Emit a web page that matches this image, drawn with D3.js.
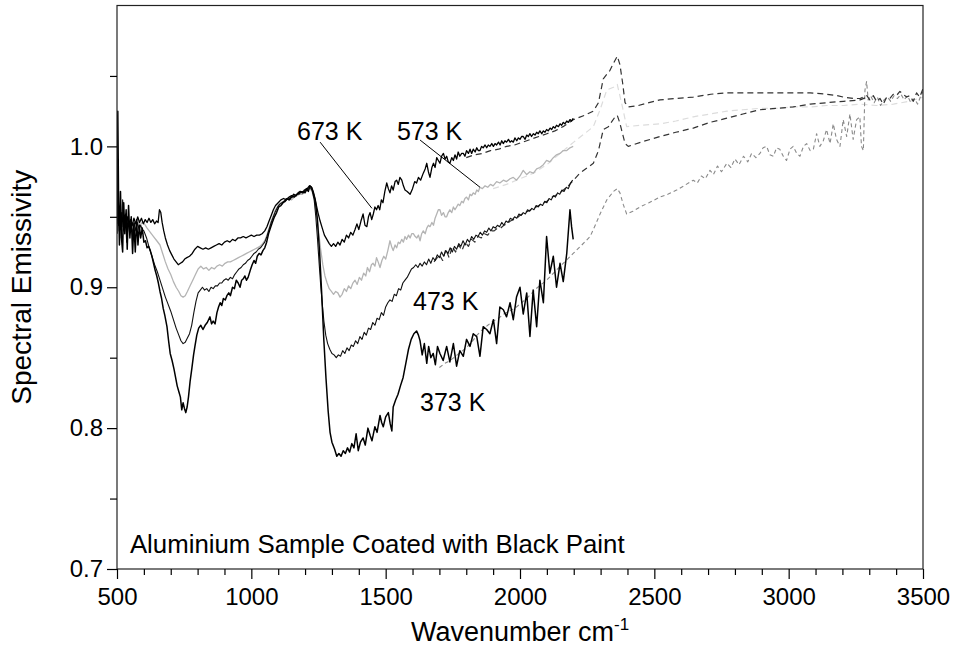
<!DOCTYPE html>
<html>
<head>
<meta charset="utf-8">
<script src="https://cdn.jsdelivr.net/npm/d3@7"></script>
<style>
  body { margin: 0; background: #fff; }
  svg text { font-family: "Liberation Sans", Arial, Helvetica, sans-serif; fill: #000; }
</style>
</head>
<body>
<svg id="chart" width="953" height="647"></svg>
<script>
// Spectral emissivity of an aluminium sample coated with black paint, [wavenumber cm-1, emissivity]
// Solid traces: first spectrometer range; dashed traces: extended range.
const solid673 = [[500,0.945],[503,0.962],[506,0.944],[510,0.956],[514,0.941],[518,0.953],[523,0.943],[528,0.951],[533,0.944],[539,0.950],[545,0.945],[551,0.948],[557,0.944],[563,0.949],[570,0.945],[577,0.950],[584,0.946],[591,0.949],[598,0.945],[605,0.948],[612,0.946],[619,0.949],[626,0.946],[633,0.948],[640,0.945],[647,0.947],[653,0.946],[658,0.955],[663,0.953],[668,0.946],[674,0.940],[680,0.935],[688,0.930],[696,0.926],[704,0.923],[712,0.920],[720,0.918],[728,0.916],[736,0.917],[744,0.918],[752,0.920],[760,0.921],[770,0.922],[780,0.924],[790,0.927],[800,0.929],[810,0.928],[820,0.927],[830,0.928],[840,0.927],[850,0.928],[860,0.929],[870,0.930],[880,0.931],[890,0.930],[900,0.932],[910,0.933],[920,0.932],[930,0.934],[940,0.933],[950,0.935],[960,0.935],[970,0.936],[980,0.935],[990,0.936],[1000,0.937],[1010,0.936],[1020,0.937],[1030,0.937],[1040,0.938],[1050,0.940],[1058,0.943],[1066,0.947],[1074,0.951],[1082,0.955],[1090,0.958],[1100,0.960],[1110,0.962],[1120,0.963],[1130,0.962],[1140,0.964],[1150,0.965],[1160,0.964],[1170,0.966],[1180,0.967],[1190,0.968],[1200,0.967],[1208,0.970],[1216,0.972],[1224,0.971],[1232,0.966],[1240,0.960],[1248,0.953],[1256,0.947],[1264,0.942],[1272,0.937],[1281,0.934],[1290,0.931],[1298,0.929],[1306,0.931],[1314,0.929],[1322,0.932],[1330,0.930],[1338,0.934],[1346,0.932],[1354,0.937],[1362,0.935],[1370,0.939],[1378,0.937],[1386,0.941],[1393,0.945],[1400,0.941],[1408,0.947],[1416,0.952],[1423,0.944],[1430,0.943],[1436,0.950],[1442,0.953],[1448,0.948],[1454,0.952],[1460,0.957],[1466,0.955],[1472,0.958],[1478,0.955],[1484,0.962],[1490,0.960],[1497,0.968],[1504,0.974],[1510,0.970],[1516,0.967],[1522,0.972],[1528,0.969],[1535,0.975],[1541,0.976],[1547,0.973],[1553,0.978],[1560,0.976],[1566,0.972],[1572,0.969],[1580,0.968],[1591,0.966],[1600,0.970],[1608,0.975],[1615,0.974],[1622,0.978],[1630,0.976],[1640,0.981],[1647,0.984],[1653,0.988],[1659,0.982],[1665,0.978],[1672,0.985],[1678,0.988],[1684,0.985],[1690,0.992],[1696,0.990],[1702,0.988],[1708,0.993],[1715,0.995],[1721,0.991],[1727,0.993],[1733,0.989],[1739,0.988],[1746,0.992],[1752,0.990],[1758,0.994],[1764,0.991],[1770,0.996],[1776,0.993],[1783,0.995],[1789,0.995],[1795,0.993],[1801,0.997],[1808,0.995],[1814,0.998],[1820,0.995],[1826,0.998],[1833,0.996],[1839,0.999],[1845,0.997],[1851,0.997],[1857,1.000],[1863,0.999],[1870,1.001],[1876,0.999],[1882,1.001],[1888,1.000],[1895,1.002],[1901,1.000],[1907,1.002],[1913,1.001],[1920,1.003],[1926,1.001],[1932,1.004],[1938,1.002],[1944,1.004],[1950,1.003],[1957,1.005],[1963,1.003],[1969,1.004],[1975,1.003],[1981,1.006],[1988,1.004],[1994,1.006],[2000,1.005],[2006,1.007],[2012,1.007],[2019,1.005],[2025,1.008],[2031,1.007],[2037,1.009],[2043,1.007],[2050,1.009],[2056,1.008],[2062,1.010],[2068,1.009],[2074,1.011],[2081,1.009],[2087,1.011],[2093,1.010],[2099,1.012],[2105,1.011],[2112,1.013],[2118,1.012],[2124,1.014],[2130,1.013],[2136,1.015],[2143,1.014],[2149,1.016],[2155,1.015],[2161,1.017],[2167,1.016],[2174,1.018],[2180,1.017],[2186,1.019],[2192,1.018],[2198,1.020]];

const solid573 = [[500,0.948],[504,0.962],[508,0.943],[513,0.955],[518,0.940],[524,0.951],[530,0.943],[536,0.950],[543,0.944],[550,0.948],[557,0.943],[564,0.947],[571,0.944],[578,0.947],[586,0.944],[594,0.946],[602,0.945],[612,0.942],[624,0.939],[636,0.936],[648,0.933],[660,0.930],[670,0.924],[680,0.918],[690,0.913],[700,0.909],[710,0.904],[720,0.900],[730,0.897],[738,0.894],[746,0.893],[754,0.894],[762,0.897],[772,0.901],[782,0.905],[792,0.909],[802,0.913],[812,0.915],[822,0.913],[832,0.914],[842,0.912],[852,0.914],[862,0.913],[872,0.915],[882,0.916],[892,0.915],[902,0.917],[912,0.918],[922,0.918],[932,0.919],[942,0.920],[952,0.921],[962,0.922],[972,0.923],[982,0.924],[992,0.925],[1002,0.926],[1012,0.927],[1022,0.928],[1032,0.929],[1042,0.931],[1050,0.933],[1058,0.937],[1066,0.942],[1074,0.947],[1082,0.951],[1090,0.955],[1100,0.958],[1110,0.960],[1120,0.961],[1130,0.962],[1140,0.963],[1150,0.962],[1160,0.964],[1170,0.965],[1180,0.966],[1190,0.966],[1200,0.968],[1210,0.969],[1218,0.970],[1226,0.968],[1234,0.963],[1242,0.952],[1250,0.940],[1258,0.927],[1266,0.916],[1274,0.908],[1282,0.903],[1290,0.899],[1298,0.897],[1306,0.895],[1314,0.897],[1322,0.896],[1330,0.893],[1338,0.895],[1346,0.899],[1354,0.897],[1362,0.901],[1370,0.899],[1378,0.903],[1386,0.905],[1394,0.902],[1402,0.907],[1410,0.905],[1418,0.910],[1426,0.908],[1432,0.914],[1440,0.911],[1447,0.916],[1453,0.917],[1460,0.915],[1466,0.921],[1472,0.918],[1479,0.914],[1486,0.919],[1493,0.922],[1500,0.920],[1508,0.926],[1516,0.933],[1522,0.929],[1528,0.926],[1535,0.930],[1541,0.928],[1547,0.932],[1553,0.931],[1560,0.934],[1566,0.932],[1572,0.936],[1578,0.934],[1585,0.937],[1591,0.935],[1597,0.938],[1603,0.938],[1610,0.936],[1616,0.935],[1622,0.937],[1628,0.933],[1634,0.938],[1640,0.940],[1647,0.938],[1653,0.942],[1659,0.944],[1665,0.943],[1672,0.946],[1678,0.944],[1684,0.949],[1690,0.952],[1696,0.955],[1702,0.955],[1708,0.951],[1715,0.953],[1721,0.950],[1727,0.950],[1733,0.953],[1739,0.955],[1746,0.953],[1752,0.957],[1758,0.955],[1764,0.957],[1770,0.959],[1776,0.958],[1783,0.961],[1789,0.960],[1795,0.963],[1801,0.964],[1808,0.962],[1814,0.966],[1820,0.965],[1826,0.967],[1833,0.966],[1839,0.969],[1845,0.968],[1851,0.971],[1860,0.970],[1870,0.972],[1880,0.971],[1890,0.973],[1900,0.972],[1913,0.975],[1925,0.974],[1938,0.976],[1950,0.975],[1963,0.977],[1975,0.978],[1987,0.976],[2000,0.979],[2012,0.983],[2025,0.980],[2037,0.982],[2050,0.981],[2062,0.984],[2074,0.985],[2087,0.987],[2099,0.990],[2111,0.989],[2124,0.992],[2136,0.994],[2149,0.995],[2161,0.997],[2174,0.997],[2186,0.999],[2198,1.000]];

const solid473 = [[500,0.950],[504,0.970],[508,0.940],[512,0.958],[516,0.935],[521,0.962],[526,0.940],[531,0.952],[536,0.932],[542,0.950],[547,0.938],[553,0.947],[558,0.937],[564,0.946],[570,0.940],[576,0.946],[582,0.941],[588,0.944],[594,0.941],[600,0.940],[610,0.935],[620,0.928],[630,0.922],[640,0.916],[650,0.911],[660,0.905],[670,0.899],[680,0.893],[690,0.888],[700,0.883],[710,0.877],[720,0.871],[730,0.866],[738,0.862],[746,0.860],[754,0.861],[762,0.864],[770,0.867],[778,0.873],[786,0.882],[794,0.890],[802,0.896],[810,0.898],[818,0.900],[826,0.898],[834,0.899],[842,0.897],[850,0.900],[858,0.899],[866,0.901],[874,0.901],[882,0.903],[890,0.903],[898,0.905],[906,0.906],[914,0.905],[922,0.907],[930,0.906],[938,0.909],[946,0.911],[954,0.913],[962,0.914],[970,0.916],[978,0.917],[986,0.919],[994,0.920],[1002,0.922],[1010,0.924],[1018,0.925],[1026,0.927],[1034,0.928],[1042,0.930],[1050,0.932],[1058,0.936],[1066,0.941],[1074,0.946],[1082,0.950],[1090,0.954],[1098,0.957],[1106,0.959],[1114,0.960],[1122,0.961],[1130,0.963],[1138,0.962],[1146,0.964],[1154,0.964],[1162,0.965],[1170,0.966],[1178,0.966],[1186,0.968],[1194,0.967],[1202,0.969],[1210,0.970],[1218,0.971],[1226,0.969],[1234,0.962],[1240,0.950],[1246,0.935],[1252,0.918],[1258,0.902],[1264,0.888],[1270,0.876],[1277,0.866],[1284,0.860],[1292,0.856],[1300,0.853],[1308,0.852],[1316,0.850],[1324,0.852],[1332,0.851],[1340,0.855],[1348,0.853],[1356,0.857],[1364,0.855],[1372,0.859],[1380,0.858],[1388,0.862],[1396,0.860],[1404,0.865],[1412,0.863],[1420,0.868],[1428,0.866],[1436,0.871],[1444,0.870],[1452,0.875],[1460,0.873],[1468,0.878],[1476,0.877],[1484,0.882],[1492,0.880],[1500,0.886],[1508,0.889],[1516,0.891],[1524,0.890],[1532,0.895],[1540,0.894],[1548,0.899],[1556,0.898],[1564,0.903],[1572,0.905],[1580,0.907],[1588,0.910],[1596,0.913],[1604,0.914],[1612,0.916],[1620,0.914],[1628,0.917],[1636,0.915],[1644,0.918],[1652,0.916],[1660,0.920],[1668,0.917],[1676,0.921],[1684,0.919],[1692,0.923],[1700,0.921],[1708,0.925],[1716,0.922],[1724,0.926],[1732,0.924],[1740,0.928],[1748,0.925],[1756,0.929],[1764,0.927],[1772,0.931],[1780,0.929],[1788,0.933],[1796,0.930],[1804,0.934],[1812,0.932],[1820,0.936],[1828,0.934],[1836,0.937],[1844,0.936],[1852,0.939],[1860,0.937],[1868,0.940],[1876,0.939],[1884,0.942],[1892,0.940],[1900,0.943],[1908,0.942],[1916,0.944],[1924,0.943],[1932,0.946],[1940,0.944],[1948,0.947],[1956,0.946],[1964,0.949],[1972,0.948],[1980,0.950],[1988,0.949],[1996,0.952],[2004,0.951],[2012,0.953],[2020,0.952],[2028,0.955],[2036,0.954],[2044,0.956],[2052,0.955],[2060,0.958],[2068,0.957],[2076,0.959],[2084,0.958],[2092,0.961],[2100,0.960],[2108,0.963],[2116,0.962],[2124,0.965],[2132,0.964],[2140,0.967],[2148,0.966],[2156,0.969],[2164,0.968],[2172,0.971],[2180,0.970],[2188,0.974],[2196,0.976]];

const solid373 = [[500,0.938],[503,1.025],[506,0.960],[509,0.930],[513,0.968],[517,0.934],[521,0.925],[525,0.960],[529,0.938],[534,0.955],[538,0.927],[543,0.958],[548,0.935],[553,0.950],[558,0.924],[563,0.945],[568,0.925],[573,0.948],[578,0.930],[583,0.944],[588,0.935],[594,0.942],[600,0.932],[606,0.933],[612,0.928],[618,0.929],[624,0.926],[630,0.922],[636,0.917],[642,0.912],[648,0.908],[654,0.903],[660,0.897],[666,0.892],[672,0.885],[678,0.880],[686,0.872],[692,0.862],[698,0.853],[705,0.848],[712,0.842],[718,0.836],[724,0.830],[730,0.826],[736,0.822],[741,0.813],[746,0.818],[751,0.814],[756,0.811],[761,0.815],[766,0.822],[772,0.833],[779,0.843],[785,0.852],[790,0.858],[797,0.866],[804,0.871],[812,0.873],[820,0.870],[828,0.873],[836,0.875],[846,0.879],[852,0.874],[858,0.876],[865,0.874],[872,0.882],[878,0.886],[884,0.889],[890,0.887],[896,0.892],[903,0.891],[909,0.894],[916,0.896],[922,0.894],[930,0.900],[937,0.899],[944,0.905],[951,0.903],[958,0.900],[964,0.905],[970,0.906],[976,0.908],[982,0.905],[988,0.907],[996,0.912],[1003,0.916],[1010,0.919],[1016,0.917],[1022,0.922],[1029,0.924],[1036,0.923],[1043,0.926],[1050,0.928],[1057,0.932],[1064,0.938],[1071,0.942],[1078,0.946],[1086,0.950],[1094,0.953],[1102,0.957],[1110,0.958],[1118,0.960],[1126,0.961],[1134,0.963],[1142,0.962],[1150,0.964],[1158,0.966],[1166,0.965],[1174,0.967],[1182,0.968],[1190,0.967],[1198,0.969],[1206,0.970],[1212,0.968],[1218,0.972],[1224,0.971],[1230,0.968],[1238,0.962],[1246,0.948],[1254,0.925],[1262,0.895],[1270,0.862],[1278,0.835],[1286,0.812],[1293,0.797],[1300,0.790],[1310,0.785],[1318,0.780],[1326,0.782],[1334,0.780],[1342,0.784],[1350,0.782],[1358,0.786],[1366,0.783],[1374,0.789],[1382,0.786],[1390,0.796],[1398,0.784],[1406,0.790],[1416,0.793],[1424,0.788],[1434,0.800],[1442,0.795],[1449,0.791],[1460,0.801],[1468,0.797],[1479,0.809],[1485,0.804],[1491,0.801],[1500,0.808],[1510,0.811],[1517,0.803],[1523,0.798],[1528,0.815],[1537,0.820],[1546,0.824],[1555,0.830],[1565,0.836],[1575,0.846],[1585,0.856],[1595,0.863],[1605,0.867],[1615,0.869],[1622,0.866],[1628,0.862],[1636,0.852],[1644,0.860],[1653,0.846],[1660,0.858],[1668,0.850],[1677,0.853],[1685,0.845],[1693,0.858],[1702,0.853],[1714,0.848],[1727,0.858],[1739,0.847],[1752,0.860],[1764,0.844],[1776,0.855],[1789,0.851],[1801,0.863],[1814,0.858],[1826,0.867],[1839,0.865],[1851,0.851],[1863,0.872],[1876,0.870],[1888,0.867],[1901,0.877],[1913,0.860],[1925,0.886],[1938,0.884],[1950,0.879],[1963,0.889],[1975,0.877],[1987,0.893],[2000,0.900],[2012,0.881],[2025,0.896],[2037,0.865],[2049,0.898],[2062,0.872],[2074,0.905],[2087,0.889],[2099,0.936],[2111,0.910],[2124,0.922],[2136,0.900],[2149,0.917],[2161,0.904],[2174,0.924],[2186,0.955],[2192,0.943],[2198,0.934]];

const dashed673 = [[1800,0.992],[1830,0.994],[1860,0.995],[1890,0.997],[1920,0.998],[1950,1.000],[1980,1.001],[2010,1.003],[2040,1.005],[2070,1.007],[2100,1.009],[2130,1.011],[2160,1.014],[2199,1.019],[2240,1.022],[2273,1.025],[2292,1.031],[2310,1.048],[2335,1.054],[2348,1.059],[2362,1.064],[2372,1.058],[2382,1.045],[2391,1.031],[2403,1.028],[2440,1.029],[2480,1.031],[2521,1.033],[2580,1.034],[2645,1.035],[2710,1.037],[2770,1.038],[2830,1.038],[2893,1.038],[2950,1.038],[3017,1.038],[3080,1.038],[3142,1.037],[3180,1.036],[3204,1.035],[3240,1.034],[3266,1.034],[3291,1.036],[3302,1.033],[3315,1.036],[3327,1.032],[3340,1.034],[3352,1.030],[3365,1.035],[3377,1.034],[3389,1.037],[3401,1.036],[3414,1.039],[3426,1.037],[3439,1.035],[3451,1.036],[3464,1.032],[3476,1.038],[3488,1.035],[3500,1.041]];

const dashed573 = [[1900,0.970],[1950,0.973],[2000,0.977],[2050,0.981],[2100,0.987],[2149,0.995],[2200,1.003],[2240,1.009],[2273,1.014],[2298,1.026],[2323,1.040],[2348,1.042],[2362,1.044],[2379,1.030],[2397,1.014],[2450,1.015],[2521,1.016],[2580,1.018],[2645,1.021],[2707,1.023],[2770,1.025],[2830,1.026],[2893,1.027],[2955,1.027],[3017,1.028],[3080,1.028],[3142,1.029],[3204,1.029],[3266,1.030],[3327,1.029],[3390,1.030],[3450,1.032],[3500,1.035]];

const dashed473 = [[1680,0.918],[1700,0.923],[1712,0.919],[1724,0.927],[1736,0.921],[1748,0.929],[1760,0.925],[1772,0.930],[1784,0.926],[1796,0.932],[1808,0.929],[1820,0.934],[1832,0.932],[1844,0.936],[1856,0.935],[1868,0.938],[1880,0.937],[1892,0.940],[1904,0.940],[1916,0.942],[1928,0.942],[1940,0.944],[1952,0.945],[1964,0.947],[1976,0.948],[1988,0.949],[2000,0.951],[2020,0.953],[2040,0.955],[2060,0.957],[2080,0.959],[2100,0.961],[2120,0.964],[2149,0.967],[2180,0.972],[2223,0.981],[2273,0.988],[2292,0.997],[2310,1.012],[2329,1.014],[2354,1.021],[2362,1.022],[2371,1.017],[2379,1.011],[2391,1.002],[2403,1.000],[2450,1.003],[2521,1.007],[2580,1.010],[2645,1.013],[2707,1.017],[2770,1.020],[2830,1.023],[2893,1.026],[2955,1.027],[3017,1.028],[3080,1.030],[3142,1.031],[3204,1.032],[3266,1.033],[3291,1.035]];

const dashed373 = [[1700,0.843],[1720,0.846],[1740,0.848],[1760,0.851],[1780,0.854],[1800,0.857],[1820,0.861],[1840,0.866],[1860,0.870],[1880,0.873],[1900,0.876],[1920,0.878],[1940,0.881],[1960,0.883],[1980,0.885],[2000,0.888],[2030,0.893],[2060,0.899],[2099,0.905],[2140,0.913],[2198,0.924],[2230,0.930],[2261,0.936],[2280,0.944],[2298,0.952],[2323,0.962],[2348,0.968],[2362,0.970],[2372,0.967],[2384,0.959],[2397,0.952],[2420,0.954],[2447,0.957],[2480,0.960],[2521,0.964],[2550,0.966],[2583,0.969],[2610,0.972],[2645,0.976],[2660,0.974],[2675,0.979],[2690,0.977],[2707,0.983],[2720,0.980],[2735,0.986],[2750,0.982],[2770,0.988],[2785,0.985],[2800,0.991],[2815,0.987],[2832,0.993],[2848,0.989],[2862,0.995],[2878,0.992],[2893,0.995],[2905,0.999],[2918,1.000],[2930,0.994],[2943,0.993],[2955,0.999],[2967,0.998],[2980,0.993],[2992,0.990],[3005,0.998],[3017,1.000],[3030,0.995],[3042,0.993],[3055,1.000],[3067,1.002],[3080,0.997],[3092,0.998],[3104,1.009],[3116,1.000],[3129,1.004],[3141,1.012],[3154,1.002],[3166,1.016],[3178,1.005],[3191,1.000],[3203,1.019],[3216,1.007],[3228,1.023],[3240,1.005],[3253,1.019],[3265,1.021],[3271,1.000],[3278,0.997],[3284,1.040],[3290,1.046],[3296,1.033],[3305,1.036],[3318,1.031],[3330,1.035],[3342,1.029],[3355,1.033],[3368,1.035],[3380,1.032],[3392,1.036],[3405,1.034],[3418,1.037],[3430,1.033],[3442,1.036],[3455,1.031],[3468,1.034],[3480,1.030],[3492,1.036],[3500,1.039]];

// Axis ticks
const xMajorTicks = [500, 1000, 1500, 2000, 2500, 3000, 3500];
const xMinorTicks = [600,700,800,900,1100,1200,1300,1400,1600,1700,1800,1900,2100,2200,2300,2400,2600,2700,2800,2900,3100,3200,3300,3400];
const yMajorTicks = [0.7, 0.8, 0.9, 1.0];
const yMinorTicks = [0.75, 0.85, 0.95, 1.05];

// Temperature labels with leader lines, [wavenumber, emissivity] anchors
const tempLabels = [
  { text: "673 K", at: [1170, 1.0045] },
  { text: "573 K", at: [1542, 1.0045] },
  { text: "473 K", at: [1602, 0.8838] },
  { text: "373 K", at: [1628, 0.812] }
];
const leaders = [
  [[1256, 1.003], [1449, 0.956]],
  [[1628, 1.0045], [1851, 0.971]]
];
const sampleNote = { text: "Aluminium Sample Coated with Black Paint", at: [548, 0.7114] };

const svg = d3.select("#chart");
const x = d3.scaleLinear().domain([500, 3500]).range([117, 923]);
const y = d3.scaleLinear().domain([0.7, 1.1]).range([569, 5.5]);

svg.append("defs").append("clipPath").attr("id", "plotClip")
  .append("rect")
  .attr("x", x(500)).attr("y", y(1.1))
  .attr("width", x(3500) - x(500)).attr("height", y(0.7) - y(1.1));

const line = d3.line().x(d => x(d[0])).y(d => y(d[1]));
const plot = svg.append("g").attr("clip-path", "url(#plotClip)");

const traces = [
  { data: dashed573, stroke: "#dcdcdc", width: 1.2, dash: "6,4" },
  { data: dashed373, stroke: "#8a8a8a", width: 1.1, dash: "4,3" },
  { data: dashed473, stroke: "#333", width: 1.2, dash: "6,4" },
  { data: dashed673, stroke: "#333", width: 1.2, dash: "6,4" },
  { data: solid573, stroke: "#b4b4b4", width: 1.3, dash: null },
  { data: solid473, stroke: "#111", width: 1.1, dash: null },
  { data: solid673, stroke: "#000", width: 1.3, dash: null },
  { data: solid373, stroke: "#000", width: 1.5, dash: null }
];

plot.selectAll("path.trace").data(traces).join("path")
  .attr("class", "trace")
  .attr("d", d => line(d.data))
  .attr("fill", "none")
  .attr("stroke", d => d.stroke)
  .attr("stroke-width", d => d.width)
  .attr("stroke-linejoin", "round")
  .attr("stroke-dasharray", d => d.dash);

// Frame
svg.append("rect")
  .attr("x", x(500)).attr("y", y(1.1))
  .attr("width", x(3500) - x(500)).attr("height", y(0.7) - y(1.1))
  .attr("fill", "none").attr("stroke", "#222").attr("stroke-width", 1.2);

// X axis
const xAxisMajor = d3.axisBottom(x).tickValues(xMajorTicks).tickSize(10).tickPadding(9)
  .tickFormat(d3.format("d"));
const gx = svg.append("g").attr("transform", `translate(0,${y(0.7)})`).call(xAxisMajor);
gx.select(".domain").remove();
gx.selectAll("text").attr("font-size", 24).attr("fill", "#000");
gx.selectAll("line").attr("stroke-width", 1.2);
const gxm = svg.append("g").attr("transform", `translate(0,${y(0.7)})`)
  .call(d3.axisBottom(x).tickValues(xMinorTicks).tickSize(6).tickFormat(""));
gxm.select(".domain").remove();
gxm.selectAll("line").attr("stroke-width", 1.2);

// Y axis
const gy = svg.append("g").attr("transform", `translate(${x(500)},0)`)
  .call(d3.axisLeft(y).tickValues(yMajorTicks).tickSize(10).tickPadding(4).tickFormat(d3.format(".1f")));
gy.select(".domain").remove();
gy.selectAll("text").attr("font-size", 24).attr("fill", "#000");
gy.selectAll("line").attr("stroke-width", 1.2);
const gym = svg.append("g").attr("transform", `translate(${x(500)},0)`)
  .call(d3.axisLeft(y).tickValues(yMinorTicks).tickSize(7).tickFormat(""));
gym.select(".domain").remove();
gym.selectAll("line").attr("stroke-width", 1.2);

// Axis titles
const xt = svg.append("text")
  .attr("x", (x(500) + x(3500)) / 2).attr("y", 641)
  .attr("text-anchor", "middle").attr("font-size", 27);
xt.append("tspan").text("Wavenumber cm");
xt.append("tspan").text("-1").attr("font-size", 17).attr("dy", -11);

svg.append("text")
  .attr("transform", `translate(31,${(y(0.7) + y(1.1)) / 2}) rotate(-90)`)
  .attr("text-anchor", "middle").attr("font-size", 28)
  .text("Spectral Emissivity");

// Leader lines and temperature labels
svg.selectAll("line.leader").data(leaders).join("line")
  .attr("class", "leader")
  .attr("x1", d => x(d[0][0])).attr("y1", d => y(d[0][1]))
  .attr("x2", d => x(d[1][0])).attr("y2", d => y(d[1][1]))
  .attr("stroke", "#000").attr("stroke-width", 1);

svg.selectAll("text.temp").data(tempLabels).join("text")
  .attr("class", "temp")
  .attr("x", d => x(d.at[0])).attr("y", d => y(d.at[1]))
  .attr("font-size", 25)
  .text(d => d.text);

svg.append("text")
  .attr("x", x(sampleNote.at[0])).attr("y", y(sampleNote.at[1]))
  .attr("font-size", 25.8)
  .text(sampleNote.text);
</script>
</body>
</html>
